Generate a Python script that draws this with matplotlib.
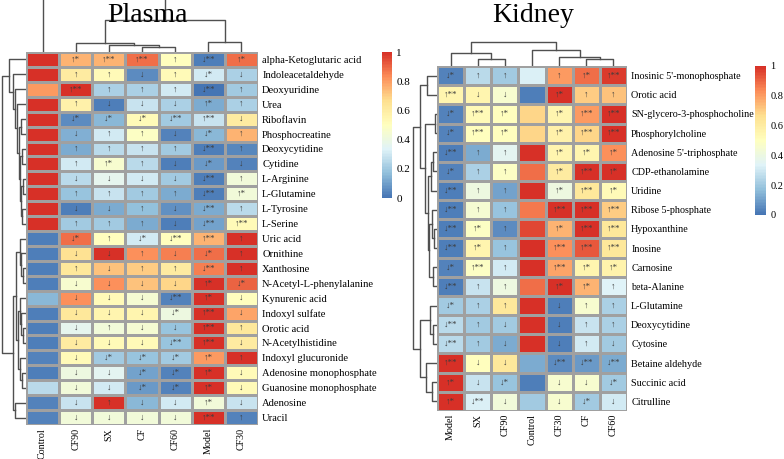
import numpy as np
import matplotlib
matplotlib.use("Agg")
import matplotlib.pyplot as plt
from matplotlib.colors import LinearSegmentedColormap

# ---- data -------------------------------------------------------------
plasma_cols = ["Control", "CF90", "SX", "CF", "CF60", "Model", "CF30"]
plasma_rows = [
    "alpha-Ketoglutaric acid", "Indoleacetaldehyde", "Deoxyuridine", "Urea",
    "Riboflavin", "Phosphocreatine", "Deoxycytidine", "Cytidine", "L-Arginine",
    "L-Glutamine", "L-Tyrosine", "L-Serine", "Uric acid", "Ornithine",
    "Xanthosine", "N-Acetyl-L-phenylalanine", "Kynurenic acid", "Indoxyl sulfate",
    "Orotic acid", "N-Acetylhistidine", "Indoxyl glucuronide",
    "Adenosine monophosphate", "Guanosine monophosphate", "Adenosine", "Uracil",
]
plasma_vals = [
    [1.00, 0.75, 0.75, 0.88, 0.50, 0.02, 0.88],
    [1.00, 0.60, 0.52, 0.05, 0.52, 0.30, 0.22],
    [0.80, 1.00, 0.22, 0.22, 0.30, 0.00, 0.20],
    [1.00, 0.58, 0.02, 0.28, 0.22, 0.12, 0.22],
    [1.00, 0.05, 0.15, 0.52, 0.20, 0.28, 0.60],
    [1.00, 0.13, 0.30, 0.48, 0.03, 0.15, 0.75],
    [1.00, 0.12, 0.25, 0.28, 0.20, 0.02, 0.04],
    [1.00, 0.30, 0.45, 0.25, 0.02, 0.08, 0.03],
    [1.00, 0.25, 0.36, 0.30, 0.20, 0.02, 0.42],
    [1.00, 0.18, 0.28, 0.20, 0.12, 0.02, 0.42],
    [1.00, 0.02, 0.12, 0.17, 0.06, 0.12, 0.25],
    [1.00, 0.20, 0.20, 0.12, 0.02, 0.10, 0.52],
    [0.02, 0.88, 0.50, 0.30, 0.50, 0.75, 1.00],
    [0.02, 0.65, 1.00, 0.82, 0.85, 0.88, 1.00],
    [0.02, 0.62, 0.72, 0.70, 0.60, 0.85, 1.00],
    [0.02, 0.45, 0.82, 0.72, 0.68, 1.00, 0.90],
    [0.15, 0.82, 0.52, 0.44, 0.03, 1.00, 0.50],
    [0.02, 0.62, 0.55, 0.55, 0.40, 1.00, 0.78],
    [0.02, 0.36, 0.42, 0.44, 0.18, 1.00, 0.62],
    [0.02, 0.60, 0.52, 0.52, 0.18, 1.00, 0.60],
    [0.03, 0.52, 0.20, 0.18, 0.20, 0.80, 1.00],
    [0.02, 0.40, 0.35, 0.10, 0.03, 1.00, 0.52],
    [0.25, 0.42, 0.30, 0.08, 0.03, 1.00, 0.52],
    [0.03, 0.28, 1.00, 0.15, 0.30, 0.42, 0.28],
    [0.03, 0.42, 0.42, 0.42, 0.42, 1.00, 0.03],
]
plasma_ann = [
    "- ↑* ↑** ↑** ↑ ↓** ↑*",
    "- ↑ ↑ ↓ ↑ ↓* ↓",
    "- ↑** ↑ ↑ ↑ ↓** ↑",
    "- ↑ ↓ ↓ ↓ ↑* ↑",
    "- ↓* ↓* ↓* ↓** ↑** ↓",
    "- ↓ ↑ ↑ ↓ ↓* ↑",
    "- ↑ ↑ ↑ ↑ ↓** ↑",
    "- ↑ ↑* ↑ ↓ ↓* ↓",
    "- ↓ ↓ ↓ ↓ ↓** ↑",
    "- ↑ ↑ ↑ ↑ ↓** ↑*",
    "- ↓ ↓ ↑ ↓ ↓** ↑",
    "- ↑ ↑ ↑ ↓ ↓** ↑**",
    "- ↓* ↑ ↓* ↓** ↑** ↑",
    "- ↓ ↓ ↑ ↓ ↓* ↑",
    "- ↑ ↓ ↑ ↑ ↓** ↑",
    "- ↓ ↓ ↓ ↓ ↑* ↓*",
    "- ↓ ↓ ↓ ↓** ↑* ↓",
    "- ↓ ↓ ↓ ↓* ↑** ↓",
    "- ↓ ↑ ↓ ↓ ↑** ↑",
    "- ↓ ↓ ↓ ↓** ↑** ↓",
    "- ↓ ↓* ↓* ↓* ↑* ↑",
    "- ↓ ↓ ↓* ↓* ↑* ↓",
    "- ↓ ↓ ↓* ↓* ↑* ↓",
    "- ↓ ↑ ↓ ↓ ↑* ↓",
    "- ↓ ↓ ↓ ↓ ↑** ↑",
]
# merge trees: (height, left, right), leaves = display index
plasma_row_tree = (
    24,
    (17, 0, (13, 1, (11, 2, (9, 3,
        (7, (5, 4, 5), (6, (4, 6, 7), (5, (3, 8, 9), (4, 10, 11)))))))),
    (13,
        (10,
            (6, 12, (5, 13, (3, 14, 15))),
            (8, (6, 16, (5, 17, (3, 18, 19))), (6, 20, (4, 21, 22)))),
        (11, 23, 24)),
)
plasma_col_tree = (60, 0, (32, (9, 1, (7, 2, (5, 3, 4))), (10, 5, 6)))

kidney_cols = ["Model", "SX", "CF90", "Control", "CF30", "CF", "CF60"]
kidney_rows = [
    "Inosinic 5'-monophosphate", "Orotic acid", "SN-glycero-3-phosphocholine",
    "Phosphorylcholine", "Adenosine 5'-triphosphate", "CDP-ethanolamine",
    "Uridine", "Ribose 5-phosphate", "Hypoxanthine", "Inosine", "Carnosine",
    "beta-Alanine", "L-Glutamine", "Deoxycytidine", "Cytosine",
    "Betaine aldehyde", "Succinic acid", "Citrulline",
]
kidney_vals = [
    [0.03, 0.25, 0.20, 0.32, 0.80, 0.88, 0.97],
    [0.55, 0.55, 0.45, 0.02, 1.00, 0.70, 0.72],
    [0.03, 0.52, 0.50, 0.68, 0.55, 0.80, 1.00],
    [0.03, 0.50, 0.50, 0.68, 0.58, 0.68, 1.00],
    [0.02, 0.12, 0.35, 1.00, 0.55, 0.55, 0.82],
    [0.03, 0.22, 0.48, 0.88, 0.60, 1.00, 1.00],
    [0.02, 0.40, 0.10, 1.00, 0.40, 0.62, 0.52],
    [0.02, 0.44, 0.18, 0.86, 1.00, 1.00, 0.70],
    [0.02, 0.48, 0.05, 0.95, 0.75, 1.00, 0.62],
    [0.02, 0.55, 0.18, 1.00, 0.82, 0.92, 0.62],
    [0.03, 0.48, 0.30, 1.00, 0.78, 0.55, 0.57],
    [0.02, 0.28, 0.40, 0.88, 1.00, 0.75, 0.33],
    [0.20, 0.22, 0.62, 1.00, 0.02, 0.45, 0.22],
    [0.25, 0.20, 0.20, 1.00, 0.02, 0.28, 0.22],
    [0.25, 0.20, 0.12, 1.00, 0.02, 0.30, 0.20],
    [1.00, 0.50, 0.62, 0.12, 0.05, 0.08, 0.12],
    [1.00, 0.28, 0.18, 0.02, 0.45, 0.45, 0.20],
    [1.00, 0.32, 0.42, 0.20, 0.45, 0.20, 0.30],
]
kidney_ann = [
    "↓* ↑ ↑ - ↑ ↑* ↑**",
    "↑** ↓ ↓ - ↑* ↑ ↑",
    "↓* ↑** ↑* - ↑* ↑** ↑**",
    "↓* ↑** ↑* - ↑* ↑** ↑**",
    "↓** ↑ ↑ - ↑* ↑* ↑*",
    "↓* ↑ ↑ - ↑* ↑** ↑*",
    "↓** ↑ ↑ - ↑* ↑** ↑*",
    "↓** ↑ ↑ - ↑** ↑** ↑**",
    "↓** ↑* ↑ - ↑* ↑** ↑**",
    "↓** ↑* ↑ - ↑** ↑** ↑**",
    "↓* ↑** ↑ - ↑** ↑* ↑*",
    "↓** ↑ ↑ - ↑* ↑* ↑",
    "↓* ↑ ↑ - ↓ ↑ ↑",
    "↓** ↑ ↓ - ↓ ↑ ↑",
    "↓** ↑ ↓ - ↓ ↑ ↓",
    "↑** ↓ ↓ - ↓** ↓** ↓**",
    "↑* ↓ ↓* - ↓ ↓ ↓*",
    "↑* ↓** ↓ - ↓ ↓* ↓",
]
kidney_row_tree = (
    24,
    (17, (10, 0, 1),
        (12, (2, 2, 3),
            (9, (6, (4, 4, 5), 6),
                (8, (5, 7, (3, 8, 9)), (4, 10, 11))))),
    (17, (7, 12, (4, 13, 14)), (11, 15, (5, 16, 17))),
)
kidney_col_tree = (24, (13, 0, (7, 1, 2)), (16, 3, (9, 4, (7, 5, 6))))

# ---- style ------------------------------------------------------------
SERIF = ["Liberation Serif", "DejaVu Serif"]
plt.rcParams["font.family"] = SERIF
cmap = LinearSegmentedColormap.from_list(
    "pheat", ["#4575B4", "#91BFDB", "#E0F3F8", "#FFFFBF",
              "#FEE090", "#FC8D59", "#D73027"], N=100)
W, H = 784, 459
fig = plt.figure(figsize=(W / 100, H / 100), dpi=100)


def px_axes(x0, y0, x1, y1):
    return fig.add_axes([x0 / W, 1 - y1 / H, (x1 - x0) / W, (y1 - y0) / H])


def tree_segments(node, segs):
    if isinstance(node, int):
        return node + 0.5, 0
    h, left, right = node
    xl, hl = tree_segments(left, segs)
    xr, hr = tree_segments(right, segs)
    segs.append(([xl, xl, xr, xr], [hl, h, h, hr]))
    return (xl + xr) / 2, h


def draw_tree(ax, tree, n, depth, side):
    segs = []
    tree_segments(tree, segs)
    for pos, hts in segs:
        if side == "top":
            ax.plot(pos, hts, color="#505050", lw=1)
        else:
            ax.plot(hts, pos, color="#505050", lw=1)
    if side == "top":
        ax.set_xlim(0, n)
        ax.set_ylim(0, depth)
    else:
        ax.set_ylim(n, 0)
        ax.set_xlim(depth, 0)
    ax.axis("off")


def heatmap(box, vals, ann, rows, cols, fs, cfs):
    ax = px_axes(*box)
    data = np.array(vals)
    nr, nc = data.shape
    mesh = ax.pcolormesh(np.arange(nc + 1), np.arange(nr + 1), data,
                         cmap=cmap, vmin=0, vmax=1,
                         edgecolors="#a0a0a0", linewidth=0.8)
    ax.set_xlim(0, nc)
    ax.set_ylim(nr, 0)
    for i, line in enumerate(ann):
        for j, s in enumerate(line.split()):
            if s != "-":
                ax.text(j + 0.5, i + 0.5, s, ha="center", va="center",
                        fontsize=6.5, color="#3c3c3c", family=SERIF)
    ax.yaxis.tick_right()
    ax.set_yticks(np.arange(nr) + 0.5)
    ax.set_yticklabels(rows, fontsize=fs)
    ax.set_xticks(np.arange(nc) + 0.5)
    ax.set_xticklabels(cols, fontsize=cfs, rotation=90)
    ax.tick_params(axis="y", length=0, pad=3)
    ax.tick_params(axis="x", length=0, pad=2)
    for sp in ax.spines.values():
        sp.set_visible(False)
    return mesh


def colorbar(mesh, box, fs):
    cax = px_axes(*box)
    cb = fig.colorbar(mesh, cax=cax, ticks=[0, 0.2, 0.4, 0.6, 0.8, 1])
    cb.ax.set_yticklabels(["0", "0.2", "0.4", "0.6", "0.8", "1"], fontsize=fs)
    cb.ax.tick_params(length=0, pad=3)
    cb.outline.set_visible(False)


# ---- Plasma -----------------------------------------------------------
m1 = heatmap((26, 52, 258, 425), plasma_vals, plasma_ann, plasma_rows,
             plasma_cols, 7.6, 7.2)
draw_tree(px_axes(26, 0, 258, 52), plasma_col_tree, len(plasma_cols), 52, "top")
draw_tree(px_axes(0, 52, 26, 425), plasma_row_tree, len(plasma_rows), 26, "left")
colorbar(m1, (382, 52, 392, 198), 8)
fig.text(147 / W, 1 - 22 / H, "Plasma", fontsize=20, ha="center", va="baseline")

# ---- Kidney -----------------------------------------------------------
m2 = heatmap((437, 66, 627, 411), kidney_vals, kidney_ann, kidney_rows,
             kidney_cols, 7.3, 7.3)
draw_tree(px_axes(437, 40, 627, 66), kidney_col_tree, len(kidney_cols), 26, "top")
draw_tree(px_axes(412, 66, 437, 411), kidney_row_tree, len(kidney_rows), 25, "left")
colorbar(m2, (755, 66, 766, 215), 7.5)
fig.text(533 / W, 1 - 22 / H, "Kidney", fontsize=20, ha="center", va="baseline")

fig.savefig("out.png", dpi=100)
